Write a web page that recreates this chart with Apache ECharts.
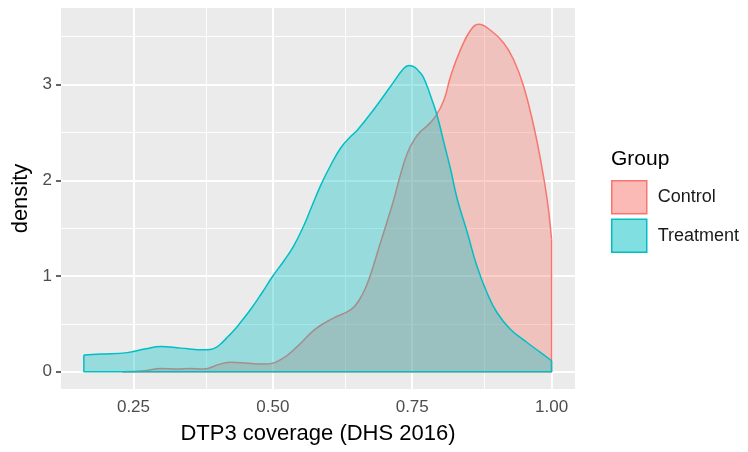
<!DOCTYPE html>
<html>
<head>
<meta charset="utf-8">
<script src="https://cdn.jsdelivr.net/npm/echarts@6/dist/echarts.min.js"></script>
<style>
    html, body { margin: 0; padding: 0; background: #fff; }
    #chart { width: 748px; height: 452px; }
</style>
</head>
<body>
<div id="chart"></div>
<script>
// 刻度
var xTicks = [0.25, 0.50, 0.75, 1.00];
var xMinor = [0.375, 0.625, 0.875];
var yTicks = [0, 1, 2, 3];
var yMinor = [0.5, 1.5, 2.5, 3.5];

// Control 密度曲线
var controlX = [0.23, 0.27, 0.30, 0.33, 0.35, 0.375, 0.405, 0.425, 0.455, 0.485, 0.515, 0.545, 0.575, 0.605, 0.64, 0.655, 0.668, 0.68, 0.692, 0.705, 0.717, 0.729, 0.741, 0.753, 0.765, 0.777, 0.792, 0.807, 0.819, 0.837, 0.855, 0.869, 0.890, 0.914, 0.932, 0.950, 0.968, 0.980, 0.992, 1.0];
var controlY = [0.0, 0.01, 0.035, 0.03, 0.035, 0.028, 0.08, 0.10, 0.09, 0.08, 0.13, 0.27, 0.44, 0.55, 0.65, 0.75, 0.90, 1.10, 1.33, 1.57, 1.80, 2.06, 2.28, 2.42, 2.51, 2.57, 2.67, 2.84, 3.09, 3.37, 3.57, 3.63, 3.57, 3.435, 3.26, 2.98, 2.565, 2.22, 1.80, 1.38];

// Treatment 密度曲线
var treatmentX = [0.161, 0.191, 0.239, 0.272, 0.299, 0.335, 0.377, 0.39, 0.40, 0.41, 0.42, 0.43, 0.44, 0.46, 0.48, 0.50, 0.52, 0.537, 0.555, 0.568, 0.586, 0.604, 0.622, 0.64, 0.651, 0.681, 0.711, 0.735, 0.744, 0.765, 0.777, 0.783, 0.795, 0.807, 0.819, 0.831, 0.849, 0.866, 0.884, 0.902, 0.926, 0.956, 0.980, 1.0];
var treatmentY = [0.174, 0.185, 0.20, 0.24, 0.265, 0.247, 0.229, 0.235, 0.26, 0.31, 0.37, 0.43, 0.50, 0.65, 0.82, 1.0, 1.16, 1.31, 1.52, 1.70, 1.95, 2.16, 2.34, 2.46, 2.52, 2.74, 2.98, 3.17, 3.20, 3.12, 2.98, 2.88, 2.67, 2.39, 2.11, 1.80, 1.45, 1.105, 0.828, 0.619, 0.445, 0.306, 0.202, 0.115];

var RED = '#F8766D', TEAL = '#00BFC4';
var RED_FILL = 'rgba(248,118,109,0.5)', TEAL_FILL = 'rgba(0,191,196,0.5)';
var FONT = 'Liberation Sans';

function pairs(xs, ys) {
    return xs.map(function (x, i) { return [x, ys[i]]; });
}

// 画网格线 (白色)
var gridLines = [];
xTicks.forEach(function (v) { gridLines.push({ xAxis: v, lineStyle: { width: 2 } }); });
xMinor.forEach(function (v) { gridLines.push({ xAxis: v, lineStyle: { width: 0.9 } }); });
yTicks.forEach(function (v) { gridLines.push({ yAxis: v, lineStyle: { width: 2 } }); });
yMinor.forEach(function (v) { gridLines.push({ yAxis: v, lineStyle: { width: 0.9 } }); });

var cData = pairs(controlX, controlY);
var tData = pairs(treatmentX, treatmentY);
var cLast = cData[cData.length - 1];
var tFirst = tData[0], tLast = tData[tData.length - 1];

var chart = echarts.init(document.getElementById('chart'));
var option = {
    animation: false,
    backgroundColor: '#fff',
    textStyle: { fontFamily: FONT },
    grid: {
        left: 61, top: 8, width: 514, height: 381,
        show: true, backgroundColor: '#EBEBEB', borderWidth: 0
    },
    title: {
        text: 'Group', left: 611, top: 149, padding: 0,
        textStyle: { fontFamily: FONT, fontSize: 21, fontWeight: 'normal', color: '#000' }
    },
    legend: {
        orient: 'vertical', left: 611, top: 180, padding: 0,
        itemWidth: 35, itemHeight: 33, itemGap: 4,
        icon: 'rect',
        textStyle: { fontFamily: FONT, fontSize: 18, color: '#1a1a1a', padding: [0, 0, 0, 6] },
        data: [
            { name: 'Control', icon: 'rect', itemStyle: { color: RED_FILL, borderColor: RED, borderWidth: 1.5 } },
            { name: 'Treatment', icon: 'rect', itemStyle: { color: TEAL_FILL, borderColor: TEAL, borderWidth: 1.5 } }
        ],
        selectedMode: false
    },
    xAxis: {
        type: 'value', min: 0.12, max: 1.042,
        name: 'DTP3 coverage (DHS 2016)', nameLocation: 'middle', nameGap: 34,
        nameTextStyle: { fontFamily: FONT, fontSize: 22, color: '#000' },
        axisLine: { show: false },
        splitLine: { show: false },
        axisTick: { show: true, customValues: xTicks, length: 5, lineStyle: { color: '#333', width: 1.5 } },
        axisLabel: {
            customValues: xTicks, margin: 10, fontSize: 17, color: '#4D4D4D', fontFamily: FONT,
            formatter: function (v) { return v.toFixed(2); }
        }
    },
    yAxis: {
        type: 'value', min: -0.18, max: 3.8,
        name: 'density', nameLocation: 'middle', nameGap: 29, nameRotate: 90,
        nameTextStyle: { fontFamily: FONT, fontSize: 22, color: '#000' },
        axisLine: { show: false },
        splitLine: { show: false },
        axisTick: { show: true, customValues: yTicks, length: 5, lineStyle: { color: '#333', width: 1.5 } },
        axisLabel: { customValues: yTicks, margin: 9, fontSize: 17, color: '#4D4D4D', fontFamily: FONT }
    },
    series: [
        {
            name: 'grid', type: 'line', z: 1, silent: true,
            data: [[0.5, 0]], symbol: 'none', lineStyle: { opacity: 0 },
            markLine: {
                z: 1, silent: true, symbol: 'none', animation: false,
                label: { show: false },
                lineStyle: { color: '#fff', type: 'solid' },
                data: gridLines
            }
        },
        {
            name: 'Control', type: 'line', z: 2, smooth: 0.45, symbol: 'none',
            data: cData,
            lineStyle: { color: RED, width: 1.5 },
            itemStyle: { color: RED },
            areaStyle: { color: RED_FILL }
        },
        {
            name: 'Control edge', type: 'line', z: 2, symbol: 'none',
            data: [cData[0], [cLast[0], 0], cLast],
            lineStyle: { color: RED, width: 1.5 }
        },
        {
            name: 'Treatment', type: 'line', z: 3, smooth: 0.45, symbol: 'none',
            data: tData,
            lineStyle: { color: TEAL, width: 1.5 },
            itemStyle: { color: TEAL },
            areaStyle: { color: TEAL_FILL }
        },
        {
            name: 'Treatment edge', type: 'line', z: 3, symbol: 'none',
            data: [tFirst, [tFirst[0], 0], [tLast[0], 0], tLast],
            lineStyle: { color: TEAL, width: 1.5 }
        }
    ]
};
chart.setOption(option);
</script>
</body>
</html>
